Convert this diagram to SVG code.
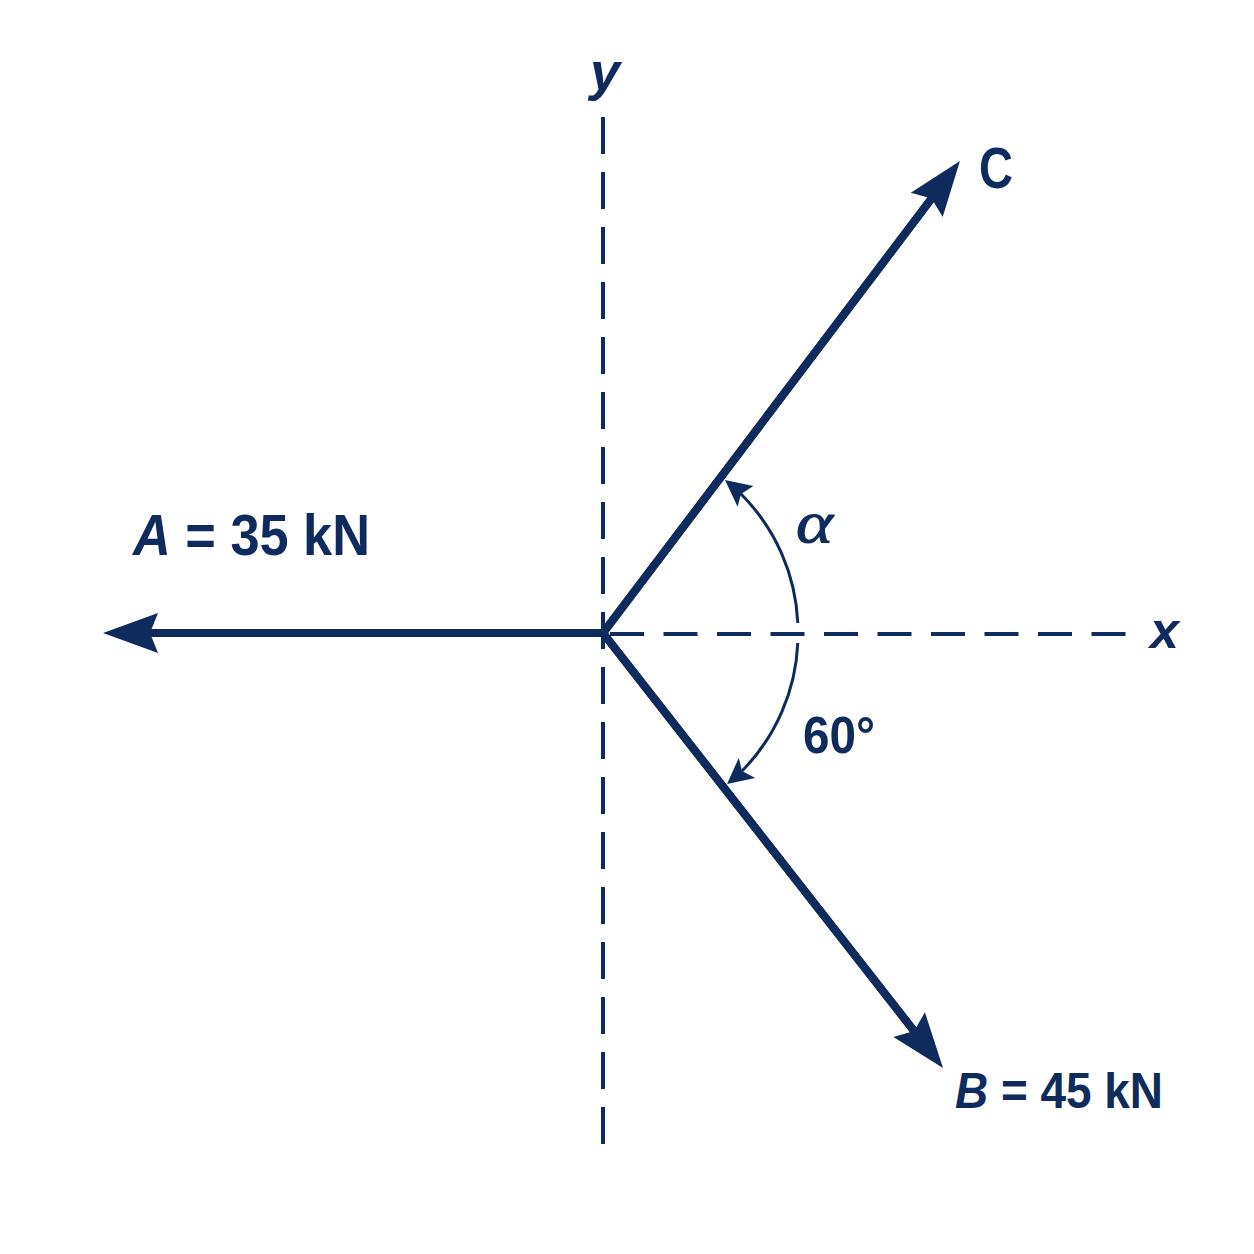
<svg xmlns="http://www.w3.org/2000/svg" width="1254" height="1254" viewBox="0 0 1254 1254">
  <style>
    .ink { fill: #0f2a5c; }
    .axis { stroke: #0f2a5c; stroke-width: 4; fill: none; }
    .vec { stroke: #0f2a5c; stroke-width: 8; fill: none; stroke-linejoin: miter; }
    .arc { stroke: #0f2a5c; stroke-width: 3; fill: none; }
    .lbl { font-family: "Liberation Sans", Arial, sans-serif; font-weight: bold; fill: #0f2a5c; }
  </style>
  <defs>
    <marker id="bigHead" markerUnits="userSpaceOnUse" orient="auto" viewBox="-20 -25 65 50" markerWidth="65" markerHeight="50" refX="0" refY="0">
      <path class="ink" d="M40,0 L-15,-20 L-7,0 L-15,20 Z"/>
    </marker>
  </defs>
  <rect width="1254" height="1254" fill="#ffffff"/>

  <g id="axes">
    <line class="axis" x1="603" y1="117" x2="603" y2="1145" stroke-dasharray="37 18"/>
    <line class="axis" x1="610" y1="634" x2="1126" y2="634" stroke-dasharray="34 19.5"/>
  </g>

  <g id="connectors">
    <line class="vec" x1="607" y1="633" x2="143" y2="633" marker-end="url(#bigHead)"/>
    <line class="vec" x1="603" y1="633" x2="935.8" y2="192.9" marker-end="url(#bigHead)"/>
    <line class="vec" x1="603" y1="633" x2="918.4" y2="1036.5" marker-end="url(#bigHead)"/>
    <path class="vec" d="M935.8,192.9 L603,633 L918.4,1036.5"/>
    <path class="arc" d="M797.8,623 A195,195 0 0 0 741,494"/>
    <path class="ink" d="M725,480 L753.4,485.9 L741,494 L737.6,506.7 Z"/>
    <path class="arc" d="M797.8,643 A195,195 0 0 1 742,771"/>
    <path class="ink" d="M727,784 L738.8,757.9 L742,771 L755.2,778.1 Z"/>
  </g>

  <g id="labels">
    <text class="lbl" x="590" y="90" font-size="54" font-style="italic">y</text>
    <text class="lbl" x="1150" y="648" font-size="52" font-style="italic">x</text>
    <text class="lbl" x="979" y="188" font-size="58" textLength="34" lengthAdjust="spacingAndGlyphs">C</text>
    <text class="lbl" x="133" y="555" font-size="58" textLength="237" lengthAdjust="spacingAndGlyphs"><tspan font-style="italic">A</tspan> = 35 kN</text>
    <text class="lbl" x="955" y="1108" font-size="50" textLength="208" lengthAdjust="spacingAndGlyphs"><tspan font-style="italic">B</tspan> = 45 kN</text>
    <text class="lbl" x="803" y="753" font-size="52" textLength="72" lengthAdjust="spacingAndGlyphs">60°</text>
    <text x="796" y="542" font-size="60" font-family="Liberation Serif, serif" font-style="italic" fill="#0f2a5c" stroke="#0f2a5c" stroke-width="1" textLength="37" lengthAdjust="spacingAndGlyphs">α</text>
  </g>
</svg>
